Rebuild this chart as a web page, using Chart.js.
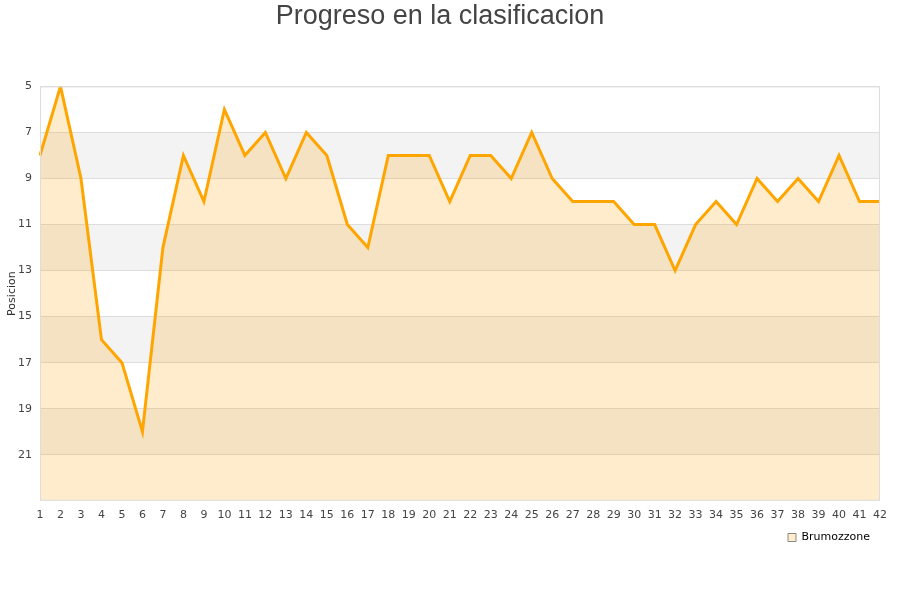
<!DOCTYPE html>
<html>
<head>
<meta charset="utf-8">
<script src="https://cdn.jsdelivr.net/npm/chart.js@4"></script>
<style>
html,body{margin:0;padding:0;background:#fff;}
#wrap{width:900px;height:600px;}
</style>
</head>
<body>
<div id="wrap"><canvas id="chart" width="900" height="600"></canvas></div>
<script>
// jornadas y posiciones
const jornadas=Array.from({length:42},(_,i)=>String(i+1));
const posiciones=[8,5,9,16,17,20,12,8,10,6,8,7,9,7,8,11,12,8,8,8,10,8,8,9,7,9,10,10,10,11,11,13,11,10,11,9,10,9,10,8,10,10];
const equipo='Brumozzone';
const bandas=[[7,9],[11,13],[15,17],[19,21]];
const yTicks=[5,7,9,11,13,15,17,19,21];

const bandPlugin={
  id:'bands',
  beforeDraw(chart){
    const {ctx,chartArea:a,scales:{y}}=chart;
    ctx.save();
    ctx.fillStyle='#f3f3f3';
    bandas.forEach(([f,t])=>{
      const p1=y.getPixelForValue(f),p2=y.getPixelForValue(t);
      ctx.fillRect(a.left,p1,a.right-a.left,p2-p1);
    });
    ctx.restore();
  },
  afterDraw(chart){
    const {ctx,chartArea:a}=chart;
    ctx.save();
    ctx.strokeStyle='#dddddd';
    ctx.lineWidth=1;
    ctx.strokeRect(a.left+0.5,a.top+0.5,a.right-a.left-1,a.bottom-a.top-1);
    ctx.restore();
  }
};

new Chart(document.getElementById('chart'),{
  type:'line',
  data:{labels:jornadas,datasets:[{
    label:equipo,
    data:posiciones,
    borderColor:'#ffa500',
    backgroundColor:'rgba(255,160,0,0.2)',
    borderWidth:3,
    pointRadius:0,
    tension:0,
    fill:'start'
  }]},
  options:{
    responsive:false,
    animation:false,
    layout:{padding:{left:0,right:20,top:0,bottom:47}},
    font:{family:'DejaVu Sans'},
    plugins:{
      title:{display:true,text:'Progreso en la clasificacion',color:'#444',
        font:{family:'Liberation Sans',size:27,weight:'normal'},padding:{top:0,bottom:54}},
      legend:{position:'bottom',align:'end',
        labels:{boxWidth:8,boxHeight:8,padding:10,color:'#222',font:{family:'DejaVu Sans',size:11},
          generateLabels:()=>[{text:equipo,fillStyle:'#ffedcc',strokeStyle:'#888',lineWidth:1,datasetIndex:0}]}},
      tooltip:{enabled:false}
    },
    scales:{
      x:{offset:false,grid:{display:false},border:{display:false},
        ticks:{color:'#444',font:{family:'DejaVu Sans',size:11},maxRotation:0,autoSkip:false,padding:0}},
      y:{reverse:true,min:5,max:23,
        afterBuildTicks:s=>{s.ticks=yTicks.map(v=>({value:v}));},
        afterFit:s=>{s.width=40;},
        title:{display:true,text:'Posicion',color:'#333',font:{family:'DejaVu Sans',size:11},padding:{top:6,bottom:0}},
        grid:{color:'#dddddd',drawTicks:false},border:{display:false},
        ticks:{color:'#444',font:{family:'DejaVu Sans',size:11},padding:8}}
    }
  },
  plugins:[bandPlugin]
});
</script>
</body>
</html>
